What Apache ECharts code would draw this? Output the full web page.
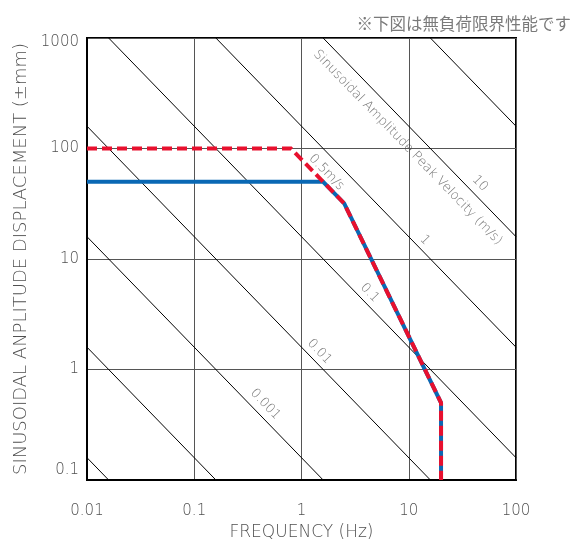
<!DOCTYPE html>
<html>
<head>
<meta charset="utf-8">
<script src="https://cdn.jsdelivr.net/npm/echarts@6/dist/echarts.min.js"></script>
<style>
html,body{margin:0;padding:0;background:#fff;}
#c{width:585px;height:540px;}
</style>
</head>
<body>
<div id="c"></div>
<script>
// ---- data ----
const xTickLabels = ['0.01', '0.1', '1', '10', '100'];
const yTickLabels = ['0.1', '1', '10', '100', '1000'];
// performance curves: [frequency Hz, displacement ±mm]
const curveBlue = [[0.01, 50], [1.59, 50], [2.5, 31.8], [20, 0.5], [20, 0.1]];
const curveRed = [[0.01, 100], [0.796, 100], [2.5, 31.8], [20, 0.5], [20, 0.1]];
// iso-velocity reference lines (m/s) and their end points [Hz, mm]
const isoVelocities = [0.00001, 0.0001, 0.001, 0.01, 0.1, 1, 10, 100];
const isoEnds = [
  [[0.01, 0.159155], [100, 0.0000159155]],
  [[0.01, 1.59155], [100, 0.000159155]],
  [[0.01, 15.9155], [100, 0.00159155]],
  [[0.01, 159.155], [100, 0.0159155]],
  [[0.01, 1591.55], [100, 0.159155]],
  [[0.01, 15915.5], [100, 1.59155]],
  [[0.01, 159155], [100, 15.9155]],
  [[0.01, 1591550], [100, 159.155]]
];
// label texts and anchor positions [Hz, mm]
const isoLabelTexts = ['10', '1', '0.5m/s', '0.1', '0.01', '0.001', 'Sinusoidal Amplitude Peak Velocity (m/s)'];
const isoLabelPos = [[46.1, 48.4], [14.1, 14.8], [1.71, 60.8], [4.32, 4.94], [1.47, 1.45], [0.46, 0.484], [9.79, 102]];
const noteText = '※下図は無負荷限界性能です';
const xName = 'FREQUENCY (Hz)';
const yName = 'SINUSOIDAL ANPLITUDE DISPLACEMENT (±mm)';

const FONT = '"DejaVu Sans", "Noto Sans CJK JP", sans-serif';
const FW = 200;
const GRAY = '#505050';

const series = [];
isoEnds.forEach((pts, i) => {
  series.push({
    type: 'line', name: 'v' + isoVelocities[i], data: pts, symbol: 'none',
    silent: true, clip: true, z: 2,
    lineStyle: {color: '#000', width: 1}
  });
});
series.push({
  type: 'scatter', data: isoLabelPos.map((p, i) => ({value: p, name: isoLabelTexts[i]})),
  symbolSize: 0, silent: true, z: 3,
  label: {
    show: true, position: 'inside', rotate: -46, formatter: p => p.name,
    color: GRAY, fontSize: 13, fontFamily: FONT, fontWeight: FW, align: 'center', verticalAlign: 'middle'
  }
});
series.push({
  type: 'line', data: curveBlue, symbol: 'none', z: 5, clip: true,
  lineStyle: {color: '#0a68b4', width: 4, cap: 'butt', join: 'miter'}
});
series.push({
  type: 'line', data: curveRed, symbol: 'none', z: 6, clip: true,
  lineStyle: {color: '#e8102e', width: 4, type: [10, 5], cap: 'butt', join: 'miter'}
});

const chart = echarts.init(document.getElementById('c'), null, {renderer: 'canvas'});
chart.setOption({
  animation: false,
  backgroundColor: '#fff',
  title: {
    text: noteText, right: 9, top: 10,
    textStyle: {color: '#7a7a7a', fontSize: 16.5, fontWeight: 'normal', fontFamily: '"Noto Sans CJK JP", sans-serif'}
  },
  grid: {left: 87, right: 69, top: 38, bottom: 60, show: true, borderColor: '#000', borderWidth: 2,
         backgroundColor: 'transparent', containLabel: false, outerBoundsMode: 'none'},
  xAxis: {
    type: 'log', logBase: 10, min: 0.01, max: 100,
    name: xName, nameLocation: 'middle', nameGap: 42,
    nameTextStyle: {color: GRAY, fontSize: 17, fontFamily: FONT, fontWeight: FW},
    axisLine: {show: true, lineStyle: {color: '#000', width: 2}},
    axisTick: {show: false},
    splitLine: {show: true, lineStyle: {color: '#555', width: 1}},
    minorSplitLine: {show: false},
    axisLabel: {
      color: GRAY, fontSize: 15, fontFamily: FONT, fontWeight: FW, margin: 24,
      formatter: v => xTickLabels[Math.round(Math.log10(v)) + 2]
    }
  },
  yAxis: {
    type: 'log', logBase: 10, min: 0.1, max: 1000,
    name: yName, nameLocation: 'middle', nameGap: 56,
    nameTextStyle: {color: GRAY, fontSize: 18, fontFamily: FONT, fontWeight: FW},
    axisLine: {show: true, lineStyle: {color: '#000', width: 2}},
    axisTick: {show: false},
    splitLine: {show: true, lineStyle: {color: '#555', width: 1}},
    axisLabel: {
      color: GRAY, fontSize: 15, fontFamily: FONT, fontWeight: FW, margin: 8,
      formatter: v => {
        const i = Math.round(Math.log10(v)) + 1;
        const t = yTickLabels[i];
        if (i === 0) return '{lo|' + t + '}';
        if (i === yTickLabels.length - 1) return '{hi|' + t + '}';
        return t;
      },
      rich: {
        lo: {color: GRAY, fontSize: 15, fontFamily: FONT, fontWeight: FW, padding: [0, 0, 20, 0]},
        hi: {color: GRAY, fontSize: 15, fontFamily: FONT, fontWeight: FW, padding: [8, 0, 0, 0]}
      }
    }
  },
  series: series
});
</script>
</body>
</html>
